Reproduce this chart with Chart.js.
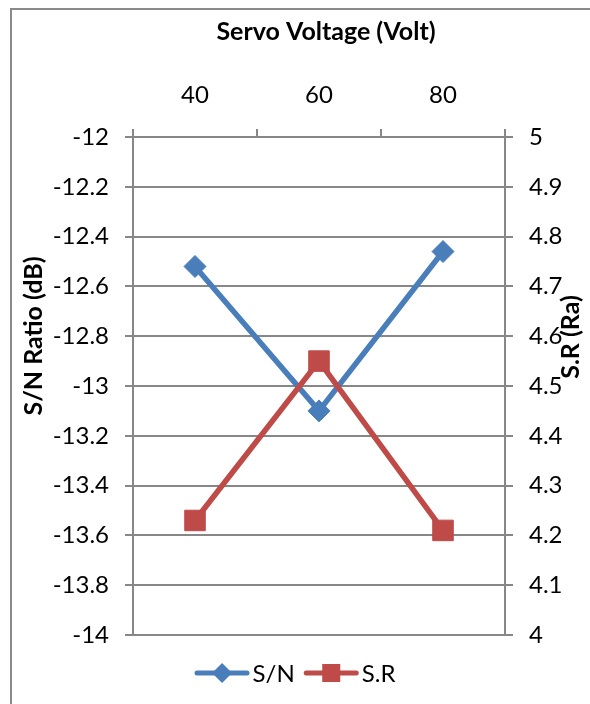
<!DOCTYPE html>
<html>
<head>
<meta charset="utf-8">
<script src="https://cdn.jsdelivr.net/npm/chart.js@4/dist/chart.umd.min.js"></script>
<style>
  html, body { margin: 0; padding: 0; background: #fff; overflow: hidden; width: 590px; height: 704px; }
  #frame { position: absolute; left: 10px; top: 8px; width: 1000px; height: 1000px; border: 2.5px solid #8a8a8a; }
  #wrap { position: absolute; left: 0; top: 0; width: 590px; height: 704px; }
</style>
</head>
<body>
<div id="frame"></div>
<div id="wrap"><canvas id="chart" width="590" height="704"></canvas></div>
<script>
// Servo voltage levels and the two response series
const voltages = ['40', '60', '80'];
const snRatio = [-12.52, -13.10, -12.46];          // S/N ratio, dB (left axis)
const surfaceRoughness = [4.23, 4.55, 4.21];       // S.R, Ra (right axis)
const seriesNames = ['S/N', 'S.R'];
const xTitle = 'Servo Voltage (Volt)';
const leftTitle = 'S/N Ratio (dB)';
const rightTitle = 'S.R (Ra)';

const FONT = 'Lato, "Open Sans", sans-serif';
const BLUE = '#4a7ebb';
const RED = '#be4b48';
const GRID = '#878787';

// Axis titles, drawn at fixed spots around the plot
const axisTitles = {
  id: 'axisTitles',
  afterDraw(chart, args, o) {
    const ctx = chart.ctx;
    ctx.save();
    ctx.fillStyle = '#000';
    ctx.font = `bold ${o.size}px ${FONT}`;
    ctx.textAlign = 'center';
    ctx.textBaseline = 'middle';
    ctx.fillText(o.top.text, o.top.x, o.top.y);
    [o.left, o.right].forEach(t => {
      ctx.save();
      ctx.translate(t.x, t.y);
      ctx.rotate(-Math.PI / 2);
      ctx.fillText(t.text, 0, 0);
      ctx.restore();
    });
    ctx.restore();
  }
};

// Legend: a short line with the series marker on it, then the name
const lineLegend = {
  id: 'lineLegend',
  afterDraw(chart, args, o) {
    const ctx = chart.ctx;
    ctx.save();
    ctx.font = `${o.size}px ${FONT}`;
    const items = chart.data.datasets.map(ds => ({
      ds, w: o.lineLen + o.textGap + ctx.measureText(ds.label).width
    }));
    const total = items.reduce((s, i) => s + i.w, 0) + o.itemGap * (items.length - 1);
    let x = o.cx - total / 2;
    const y = o.y;
    items.forEach(({ ds, w }) => {
      ctx.strokeStyle = ds.borderColor;
      ctx.lineWidth = 5;
      ctx.lineCap = 'round';
      ctx.beginPath();
      ctx.moveTo(x + 2.5, y);
      ctx.lineTo(x + o.lineLen - 2.5, y);
      ctx.stroke();
      const cx = x + o.lineLen / 2;
      ctx.fillStyle = ds.pointBackgroundColor;
      ctx.beginPath();
      if (ds.pointStyle === 'rectRot') {
        const r = o.marker + 1;
        ctx.moveTo(cx, y - r);
        ctx.lineTo(cx + r, y);
        ctx.lineTo(cx, y + r);
        ctx.lineTo(cx - r, y);
        ctx.closePath();
      } else {
        const r = o.marker;
        ctx.rect(cx - r, y - r, 2 * r, 2 * r);
      }
      ctx.fill();
      ctx.fillStyle = '#000';
      ctx.textAlign = 'left';
      ctx.textBaseline = 'middle';
      ctx.fillText(ds.label, x + o.lineLen + o.textGap, y + 1);
      x += w + o.itemGap;
    });
    ctx.restore();
  }
};

const tickFont = { family: FONT, size: 24 };
const fmt = v => String(Number(v.toFixed(1)));

new Chart(document.getElementById('chart'), {
  type: 'line',
  data: {
    labels: voltages,
    datasets: [
      {
        label: seriesNames[0], data: snRatio, yAxisID: 'ySN',
        borderColor: BLUE, backgroundColor: BLUE,
        pointBackgroundColor: BLUE, pointBorderColor: BLUE,
        pointStyle: 'rectRot', pointRadius: 11, pointBorderWidth: 1,
        borderWidth: 5.5, tension: 0, order: 1
      },
      {
        label: seriesNames[1], data: surfaceRoughness, yAxisID: 'ySR',
        borderColor: RED, backgroundColor: RED,
        pointBackgroundColor: RED, pointBorderColor: RED,
        pointStyle: 'rect', pointRadius: 14.5, pointBorderWidth: 1,
        borderWidth: 5.5, tension: 0, order: 0
      }
    ]
  },
  options: {
    responsive: false,
    animation: false,
    events: [],
    layout: { padding: { left: 0, right: 0, top: 0, bottom: 69 } },
    plugins: {
      legend: { display: false },
      tooltip: { enabled: false },
      axisTitles: {
        size: 25,
        top: { text: xTitle, x: 326, y: 32 },
        left: { text: leftTitle, x: 34, y: 336 },
        right: { text: rightTitle, x: 571, y: 337 }
      },
      lineLegend: { size: 24, cx: 295, y: 673, lineLen: 55, textGap: 3, itemGap: 9, marker: 9 }
    },
    scales: {
      x: {
        position: 'top',
        offset: true,
        grid: { offset: true, drawOnChartArea: false, color: GRID, tickColor: GRID, lineWidth: 2, tickLength: 8 },
        border: { color: GRID, width: 2 },
        ticks: { font: tickFont, color: '#000', padding: 19, maxRotation: 0 },
        afterFit(s) { s.height = 137; }
      },
      ySN: {
        position: 'left',
        min: -14, max: -12,
        grid: { color: GRID, tickColor: GRID, lineWidth: 2, tickLength: 8 },
        border: { color: GRID, width: 2 },
        ticks: { stepSize: 0.2, font: tickFont, color: '#000', padding: 16, callback: fmt },
        afterFit(s) { s.width = 133; }
      },
      ySR: {
        position: 'right',
        min: 4, max: 5,
        grid: { drawOnChartArea: false, color: GRID, tickColor: GRID, lineWidth: 2, tickLength: 8 },
        border: { color: GRID, width: 2 },
        ticks: { stepSize: 0.1, font: tickFont, color: '#000', padding: 16, callback: fmt },
        afterFit(s) { s.width = 85; }
      }
    }
  },
  plugins: [axisTitles, lineLegend]
});
</script>
</body>
</html>
